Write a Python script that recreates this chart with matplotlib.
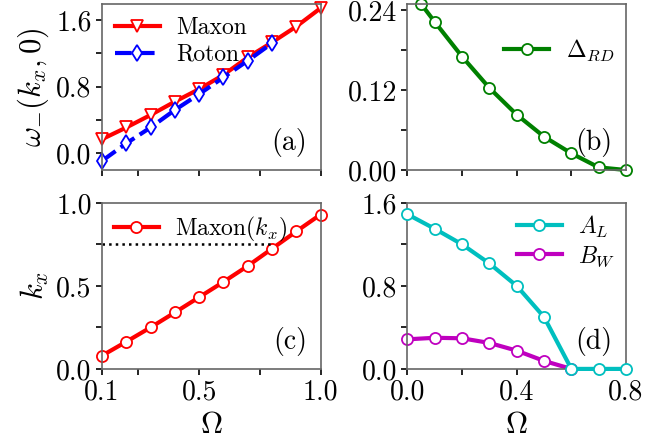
import numpy as np
import matplotlib
matplotlib.use('Agg')
import matplotlib.pyplot as plt
from matplotlib.ticker import FixedLocator

plt.rcParams['font.family'] = 'serif'
plt.rcParams['font.serif'] = ['cmr10']
plt.rcParams['mathtext.fontset'] = 'cm'
plt.rcParams['axes.unicode_minus'] = False
plt.rcParams['axes.formatter.use_mathtext'] = True
plt.rcParams['axes.edgecolor'] = '0.4'
plt.rcParams['axes.linewidth'] = 1.2

# panel (a): dispersion minimum vs Omega
omega_a = [0.1, 0.2, 0.3, 0.4, 0.5, 0.6, 0.7, 0.8, 0.9, 1.0]
maxon = [0.17, 0.31, 0.46, 0.62, 0.77, 0.94, 1.15, 1.33, 1.52, 1.74]
omega_roton = [0.1, 0.2, 0.3, 0.4, 0.5, 0.6, 0.7, 0.8]
roton = [-0.09, 0.12, 0.31, 0.52, 0.71, 0.91, 1.11, 1.32]

# panel (b): roton gap
omega_b = [0.05, 0.1, 0.2, 0.3, 0.4, 0.5, 0.6, 0.7, 0.8]
delta_rd = [0.249, 0.222, 0.170, 0.123, 0.083, 0.050, 0.025, 0.004, 0.0]

# panel (c): maxon position
maxon_kx = [0.08, 0.164, 0.25, 0.34, 0.432, 0.524, 0.62, 0.724, 0.828, 0.93]
kx_line = 0.75

# panel (d)
omega_d = [0.0, 0.1, 0.2, 0.3, 0.4, 0.5, 0.6, 0.7, 0.8]
a_l = [1.49, 1.35, 1.20, 1.016, 0.80, 0.50, 0.0, 0.0, 0.0]
omega_bw = [0.0, 0.1, 0.2, 0.3, 0.4, 0.5, 0.6]
b_w = [0.285, 0.30, 0.295, 0.25, 0.176, 0.077, 0.0]

fig, axs = plt.subplots(2, 2, figsize=(6.46, 4.45), dpi=100)
fig.subplots_adjust(left=0.158, right=0.969, top=0.991, bottom=0.171,
                    wspace=0.398, hspace=0.198)
ax_a, ax_b = axs[0]
ax_c, ax_d = axs[1]

lw = 3
ms = 8
mew = 1.3
tfs = 20
lfs = 17
pfs = 20

ax_a.plot(omega_a, maxon, '-', color='r', lw=lw, marker='v', ms=ms,
          mfc='w', mec='r', mew=mew, label='Maxon')
ax_a.plot(omega_roton, roton, '--', color='b', lw=lw, marker='d', ms=ms,
          mfc='w', mec='b', mew=mew, label='Roton', dashes=(4, 1.5))
ax_a.set_xlim(0.1, 1.0)
ax_a.set_ylim(-0.2, 1.79)
ax_a.set_yticks([0.0, 0.8, 1.6])
ax_a.set_yticklabels(['0.0', '0.8', '1.6'])
ax_a.yaxis.set_minor_locator(FixedLocator([0.4, 1.2]))
ax_a.set_xticks([0.1, 0.5, 1.0])
ax_a.set_xticklabels([])
ax_a.xaxis.set_minor_locator(FixedLocator([0.25, 0.75]))
ax_a.set_ylabel(r'$\omega_{-}(k_x,0)$', fontsize=22, labelpad=4)
ax_a.legend(loc='upper left', fontsize=lfs, frameon=False, handlelength=1.9,
            borderaxespad=0.15, labelspacing=0.2, handletextpad=0.7)
ax_a.text(0.94, 0.08, '(a)', transform=ax_a.transAxes, ha='right', va='bottom',
          fontsize=pfs)

ax_b.plot(omega_b, delta_rd, '-', color='g', lw=lw, marker='o', ms=ms,
          mfc='w', mec='g', mew=mew, label=r'$\Delta_{RD}$')
ax_b.set_xlim(0.0, 0.8)
ax_b.set_ylim(0.0, 0.249)
ax_b.set_yticks([0.0, 0.12, 0.24])
ax_b.set_yticklabels(['0.00', '0.12', '0.24'])
ax_b.yaxis.set_minor_locator(FixedLocator([0.06, 0.18]))
ax_b.set_xticks([0.0, 0.4, 0.8])
ax_b.set_xticklabels([])
ax_b.xaxis.set_minor_locator(FixedLocator([0.2, 0.6]))
ax_b.legend(loc='center right', bbox_to_anchor=(1.0, 0.72), fontsize=lfs,
            frameon=False, handlelength=1.9, borderaxespad=0.1, handletextpad=0.7)
ax_b.text(0.94, 0.08, '(b)', transform=ax_b.transAxes, ha='right', va='bottom',
          fontsize=pfs)

ax_c.plot(omega_a, maxon_kx, '-', color='r', lw=lw, marker='o', ms=ms,
          mfc='w', mec='r', mew=mew, label=r'Maxon$(k_x)$')
ax_c.hlines(kx_line, omega_a[0], omega_a[7], colors='k', linestyles=':', lw=1.8)
ax_c.set_xlim(0.1, 1.0)
ax_c.set_ylim(0.0, 1.0)
ax_c.set_yticks([0.0, 0.5, 1.0])
ax_c.set_yticklabels(['0.0', '0.5', '1.0'])
ax_c.yaxis.set_minor_locator(FixedLocator([0.25, 0.75]))
ax_c.set_xticks([0.1, 0.5, 1.0])
ax_c.set_xticklabels(['0.1', '0.5', '1.0'])
ax_c.xaxis.set_minor_locator(FixedLocator([0.25, 0.75]))
ax_c.set_ylabel(r'$k_x$', fontsize=22, labelpad=4)
ax_c.set_xlabel(r'$\Omega$', fontsize=22)
ax_c.legend(loc='upper left', fontsize=lfs, frameon=False, handlelength=1.9,
            borderaxespad=0.1, handletextpad=0.7)
ax_c.text(0.94, 0.08, '(c)', transform=ax_c.transAxes, ha='right', va='bottom',
          fontsize=pfs)

ax_d.plot(omega_d, a_l, '-', color='c', lw=lw, marker='o', ms=ms,
          mfc='w', mec='c', mew=mew, label=r'$A_L$', zorder=3)
ax_d.plot(omega_bw, b_w, '-', color='m', lw=lw, marker='o', ms=ms,
          mfc='w', mec='m', mew=mew, label=r'$B_W$', zorder=2)
ax_d.set_xlim(0.0, 0.8)
ax_d.set_ylim(0.0, 1.6)
ax_d.set_yticks([0.0, 0.8, 1.6])
ax_d.set_yticklabels(['0.0', '0.8', '1.6'])
ax_d.yaxis.set_minor_locator(FixedLocator([0.4, 1.2]))
ax_d.set_xticks([0.0, 0.4, 0.8])
ax_d.set_xticklabels(['0.0', '0.4', '0.8'])
ax_d.xaxis.set_minor_locator(FixedLocator([0.2, 0.6]))
ax_d.set_xlabel(r'$\Omega$', fontsize=22)
ax_d.legend(loc='upper right', fontsize=lfs, frameon=False, handlelength=1.9,
            borderaxespad=0.05, labelspacing=0.2, handletextpad=0.7)
ax_d.text(0.94, 0.08, '(d)', transform=ax_d.transAxes, ha='right', va='bottom',
          fontsize=pfs)

for ax in [ax_a, ax_b, ax_c, ax_d]:
    ax.tick_params(which='both', labelsize=tfs, length=4, width=1.2, color='k')
    for line in ax.get_lines():
        line.set_clip_on(False)

fig.savefig('out.png', dpi=100)
